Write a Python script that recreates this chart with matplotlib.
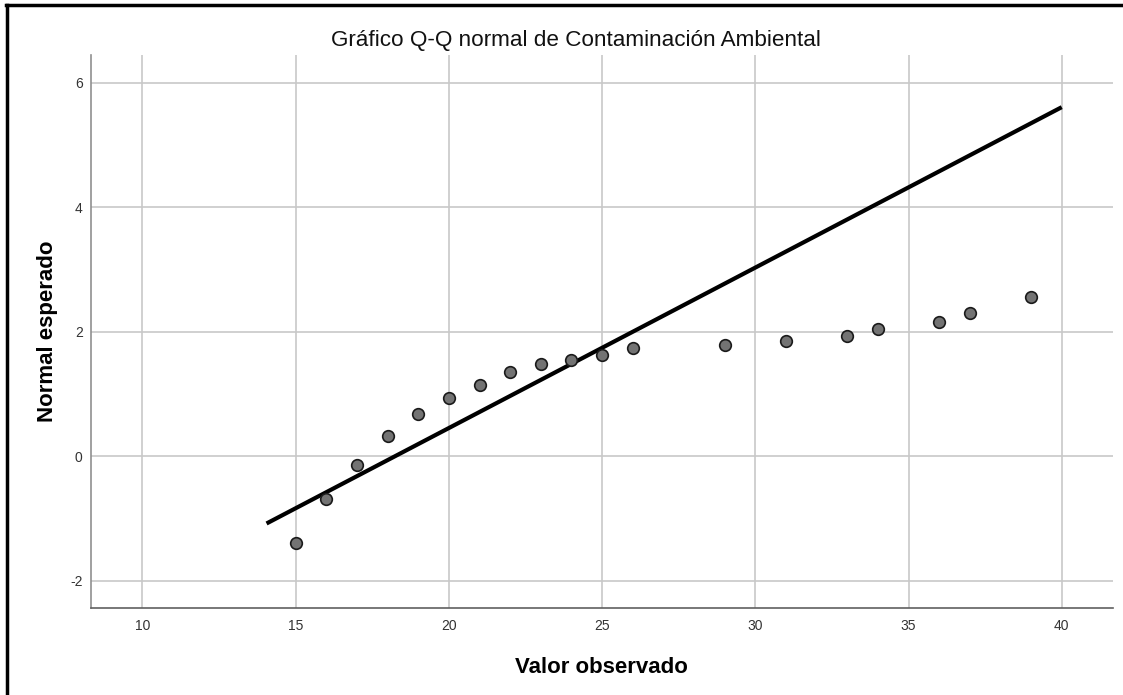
#
# Q-Q normal plot (SPSS style)
#

from matplotlib import pyplot as plt
from matplotlib.lines import Line2D

# data
obs = [15, 16, 17, 18, 19, 20, 21, 22, 23, 24, 25, 26, 29, 31, 33, 34, 36, 37, 39]
expected = [-1.40, -0.69, -0.145, 0.32, 0.687, 0.944, 1.153, 1.347, 1.475, 1.54,
            1.625, 1.733, 1.786, 1.86, 1.936, 2.04, 2.15, 2.31, 2.56]
line_x = [14.05, 40.0]
line_y = [-1.08, 5.61]
xticks = [10, 15, 20, 25, 30, 35, 40]
yticks = [-2, 0, 2, 4, 6]

TITLE = 'Gráfico Q-Q normal de Contaminación Ambiental'
XLABEL = 'Valor observado'
YLABEL = 'Normal esperado'

plt.rcParams['font.family'] = ['Liberation Sans', 'DejaVu Sans']
plt.rcParams['axes.unicode_minus'] = False

fig = plt.figure(figsize=(11.23, 6.95), dpi=100)
ax = fig.add_axes([0.081, 0.125, 0.91, 0.796])

ax.set_xlim(8.32, 41.67)
ax.set_ylim(-2.44, 6.45)
ax.set_xticks(xticks)
ax.set_yticks(yticks)
ax.grid(True, color='#c8c8c8', lw=1.2)
ax.set_axisbelow(True)
ax.tick_params(axis='x', length=0, labelsize=10, colors='#333333', pad=8)
ax.tick_params(axis='y', length=0, labelsize=10, colors='#333333', pad=6)

for s in ['top', 'right']:
    ax.spines[s].set_visible(False)
ax.spines['left'].set_color('#909090')
ax.spines['bottom'].set_color('#606060')
ax.spines['left'].set_linewidth(1.2)
ax.spines['bottom'].set_linewidth(1.2)

ax.plot(line_x, line_y, color='k', lw=3, solid_capstyle='butt', zorder=3)
ax.scatter(obs, expected, s=70, c='#737373', edgecolors='#1a1a1a', linewidths=1.2, zorder=4)

ax.set_xlabel(XLABEL, fontsize=16, fontweight='bold', labelpad=17)
ax.set_ylabel(YLABEL, fontsize=16, fontweight='bold', labelpad=9)
fig.text(0.513, 0.942, TITLE, ha='center', va='center', fontsize=16.2, color='#111111')

# page frame (left and top only)
fig.add_artist(Line2D([0.0063, 0.0063], [0.0, 0.9935], color='k', lw=2.5, transform=fig.transFigure))
fig.add_artist(Line2D([0.005, 1.0], [0.9922, 0.9922], color='k', lw=2.5, transform=fig.transFigure))

fig.savefig('out.png', dpi=100)
